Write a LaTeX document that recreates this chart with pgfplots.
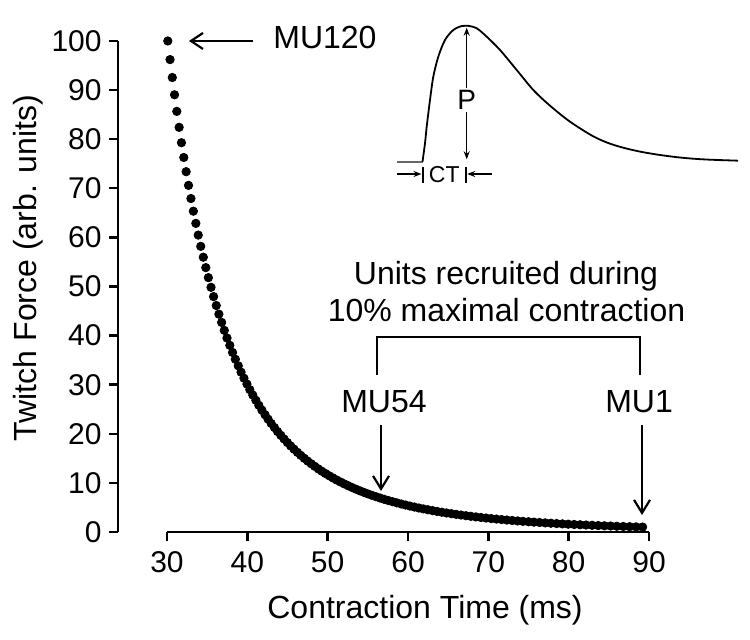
\documentclass[border=0pt]{standalone}
\usepackage{fontspec}
\setmainfont{Liberation Sans}
\usepackage{pgfplots}
\pgfplotsset{compat=1.18}
\usetikzlibrary{arrows.meta}
\begin{document}
\begin{tikzpicture}
\useasboundingbox (-59pt,-54pt) rectangle (316pt,266pt);
\begin{axis}[
  at={(0pt,0pt)}, anchor=south west,
  scale only axis, width=265.5pt, height=245.5pt,
  xmin=23.9, xmax=90, ymin=0, ymax=100,
  axis x line*=bottom, axis y line*=left,
  axis line style={-},
  x axis line style={draw=none},
  y axis line style={line width=1.2pt},
  xtick={30,40,50,60,70,80,90}, ytick={0,10,20,30,40,50,60,70,80,90,100},
  tick align=outside, major tick length=4.5pt,
  tick style={line width=1.2pt, black},
  /pgf/number format/assume math mode=true,
  tick label style={font=\fontsize{15}{18}\selectfont},
  xticklabel style={anchor=north, inner sep=0pt, yshift=-5pt},
  yticklabel style={anchor=east, inner sep=0pt, xshift=-3.5pt},
  xlabel={Contraction Time (ms)},
  ylabel={Twitch Force (arb. units)},
  label style={font=\fontsize{16}{19}\selectfont, inner sep=0pt},
  xlabel style={at={(axis description cs:0.5782,-0.1772)}, anchor=base},
  ylabel style={at={(axis description cs:-0.1544,0.5377)}, anchor=base, rotate=0},
  clip=false,
]
\addplot[only marks, mark=*, mark size=2.1pt, black] table {
x y
89.20 1.000
88.39 1.039
87.59 1.080
86.79 1.123
86.00 1.167
85.22 1.213
84.45 1.261
83.68 1.311
82.92 1.363
82.16 1.417
81.42 1.473
80.68 1.531
79.94 1.591
79.22 1.654
78.50 1.719
77.79 1.787
77.08 1.857
76.38 1.931
75.68 2.007
75.00 2.086
74.31 2.168
73.64 2.254
72.97 2.343
72.31 2.435
71.65 2.531
71.00 2.631
70.35 2.735
69.71 2.843
69.08 2.955
68.45 3.072
67.83 3.193
67.21 3.319
66.60 3.450
66.00 3.586
65.40 3.728
64.80 3.875
64.22 4.028
63.63 4.187
63.05 4.352
62.48 4.524
61.91 4.702
61.35 4.888
60.79 5.080
60.24 5.281
59.69 5.489
59.15 5.706
58.61 5.931
58.08 6.165
57.55 6.408
57.03 6.661
56.51 6.924
56.00 7.197
55.49 7.481
54.98 7.776
54.48 8.083
53.99 8.402
53.50 8.734
53.01 9.078
52.53 9.436
52.05 9.809
51.58 10.196
51.11 10.598
50.65 11.016
50.19 11.451
49.73 11.903
49.28 12.372
48.83 12.861
48.39 13.368
47.95 13.896
47.51 14.444
47.08 15.014
46.65 15.606
46.23 16.222
45.81 16.862
45.39 17.527
44.98 18.219
44.57 18.938
44.17 19.685
43.76 20.462
43.37 21.269
42.97 22.108
42.58 22.981
42.20 23.888
41.81 24.830
41.43 25.810
41.06 26.828
40.68 27.887
40.31 28.987
39.95 30.131
39.58 31.320
39.22 32.556
38.87 33.840
38.51 35.176
38.16 36.564
37.82 38.006
37.47 39.506
37.13 41.065
36.80 42.685
36.46 44.369
36.13 46.120
35.80 47.940
35.48 49.832
35.15 51.798
34.83 53.842
34.52 55.966
34.20 58.174
33.89 60.470
33.59 62.856
33.28 65.336
32.98 67.914
32.68 70.594
32.38 73.379
32.09 76.275
31.80 79.284
31.51 82.413
31.22 85.665
30.94 89.045
30.66 92.558
30.38 96.211
30.10 100.000
};
% x axis line (detached from y axis)
\draw[line width=1.2pt] (axis cs:30,0) -- (axis cs:90,0);
% annotations
\begin{scope}[font=\fontsize{16}{19}\selectfont]
\draw[line width=1.1pt, -{Straight Barb[length=6pt,width=8pt]}] (axis cs:40.71,100) -- (axis cs:32.74,100);
\node[anchor=base west, inner sep=0pt] at (axis cs:43.19,98.57) {MU120};
\node[anchor=base, inner sep=0pt] at (axis cs:72.20,50.31) {Units recruited during};
\node[anchor=base, inner sep=0pt] at (axis cs:72.26,42.77) {10\% maximal contraction};
\draw[line width=1.2pt] (axis cs:56.14,31.98) -- (axis cs:56.14,39.71) -- (axis cs:88.88,39.71) -- (axis cs:88.88,31.98);
\node[anchor=base, inner sep=0pt] at (axis cs:57.01,24.24) {MU54};
\node[anchor=base, inner sep=0pt] at (axis cs:88.76,24.24) {MU1};
\draw[line width=1.1pt, -{Straight Barb[length=6.5pt,width=8pt]}] (axis cs:56.64,21.79) -- (axis cs:56.64,8.35);
\draw[line width=1.1pt, -{Straight Barb[length=6.5pt,width=8pt]}] (axis cs:89.13,21.79) -- (axis cs:89.13,3.46);
\end{scope}
\end{axis}
% inset: schematic twitch
\begin{axis}[
  at={(139.5pt,185.15pt)}, anchor=south west,
  scale only axis, width=170.5pt, height=71pt,
  hide axis, xmin=397, xmax=738, ymin=0, ymax=142, clip=false,
]
\addplot[line width=0.9pt, color=black!60] coordinates {(397,0) (422.5,0)};
\addplot[line width=0.9pt, smooth, black] coordinates {
(422.5,0) (425,18.4) (426.7,35) (430,61.7) (433.3,85) (438.3,105) (445,121.7)
(453.3,131.7) (461.7,135.7) (467.3,136) (476.7,133.4) (486.7,125) (500,111.7)
(516.7,91.7) (533.3,71.7) (550,56) (570,40) (593,25.5) (610,18) (627,13)
(643,9.5) (660,6.7) (677,4.5) (693,3) (710,2) (738,1)
};
\draw[line width=0.7pt, {Stealth[length=4pt,width=3pt]}-{Stealth[length=4pt,width=3pt]}] (axis cs:466.7,134) -- (axis cs:466.7,2.4);
\node[fill=white, inner sep=1pt, font=\fontsize{14}{16}\selectfont] at (axis cs:466.7,61.7) {P};
\draw[line width=0.7pt, -{Stealth[length=4pt,width=3pt]}] (axis cs:397,-12.3) -- (axis cs:421.5,-12.3);
\draw[line width=0.8pt] (axis cs:422.7,-5) -- (axis cs:422.7,-21.3);
\draw[line width=0.8pt] (axis cs:466,-5) -- (axis cs:466,-21.3);
\draw[line width=0.7pt, -{Stealth[length=4pt,width=3pt]}] (axis cs:492,-12.3) -- (axis cs:467.2,-12.3);
\node[inner sep=0pt, font=\fontsize{11.5}{13}\selectfont] at (axis cs:444.3,-13.3) {CT};
\end{axis}
\end{tikzpicture}
\end{document}
